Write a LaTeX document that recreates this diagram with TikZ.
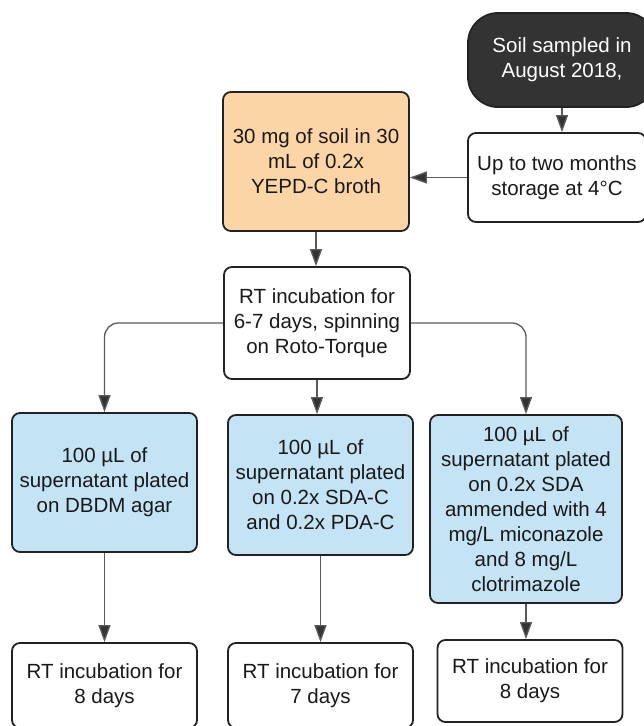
\documentclass[tikz,border=0pt]{standalone}
\usepackage{fontspec}
\setmainfont{Liberation Sans}
\usetikzlibrary{arrows.meta}
\definecolor{peach}{HTML}{FCD5A6}
\definecolor{lblue}{HTML}{C4E3F5}
\definecolor{darkfill}{HTML}{333333}
\definecolor{edgecol}{HTML}{222222}
\definecolor{conncol}{HTML}{5A5A5A}
\begin{document}
\begin{tikzpicture}[x=1pt,y=-1pt,
  box/.style={draw=edgecol, line width=1.8pt, rounded corners=8pt, align=center, inner sep=0pt, text=black!90,
    font=\fontsize{20.5}{25}\selectfont},
  conn/.style={draw=conncol, line width=1.3pt, -{Triangle[length=17pt,width=12pt,fill=darkfill]}, rounded corners=14pt}]
\useasboundingbox (0,0) rectangle (644,726);
\clip (0,0) rectangle (644,726);
\node[box, fill=darkfill, text=white, rounded corners=30pt, minimum width=188pt, minimum height=94pt] (soil) at (562,60) {Soil sampled in\\August 2018,};
\node[box, fill=white, minimum width=178pt, minimum height=89pt] (storage) at (557,177.5) {Up to two months\\storage at 4°C};
\node[box, fill=peach, minimum width=186pt, minimum height=139pt] (orange) at (316,161.5) {30 mg of soil in 30\\mL of 0.2x\\YEPD-C broth};
\node[box, fill=white, minimum width=186pt, minimum height=112pt] (rt) at (317,323) {RT incubation for\\6-7 days, spinning\\on Roto-Torque};
\node[box, fill=lblue, minimum width=185pt, minimum height=139pt] (b1) at (104.5,482.5) {100 µL of\\supernatant plated\\on DBDM agar};
\node[box, fill=lblue, minimum width=185pt, minimum height=140pt] (b2) at (320.5,485) {100 µL of\\supernatant plated\\on 0.2x SDA-C\\and 0.2x PDA-C};
\node[box, fill=lblue, minimum width=192pt, minimum height=188pt] (b3) at (526,509) {100 µL of\\supernatant plated\\on 0.2x SDA\\ammended with 4\\mg/L miconazole\\and 8 mg/L\\clotrimazole};
\node[box, fill=white, minimum width=185pt, minimum height=85pt] (r1) at (104.5,685.5) {RT incubation for\\8 days};
\node[box, fill=white, minimum width=185pt, minimum height=85pt] (r2) at (320.5,685.5) {RT incubation for\\7 days};
\node[box, fill=white, minimum width=185pt, minimum height=82pt] (r3) at (530,681) {RT incubation for\\8 days};
\draw[conn] (soil.south) -- (soil.south |- storage.north);
\draw[conn] (storage.west) -- (storage.west -| orange.east);
\draw[conn] (orange.south) -- (orange.south |- rt.north);
\draw[conn] (rt.west) -| (b1.north);
\draw[conn] (rt.south) -- (rt.south |- b2.north);
\draw[conn] (rt.east) -| (b3.north);
\draw[conn] (b1.south) -- (r1.north);
\draw[conn] (b2.south) -- (r2.north);
\draw[conn] (b3.south) -- (b3.south |- r3.north);
\end{tikzpicture}
\end{document}
